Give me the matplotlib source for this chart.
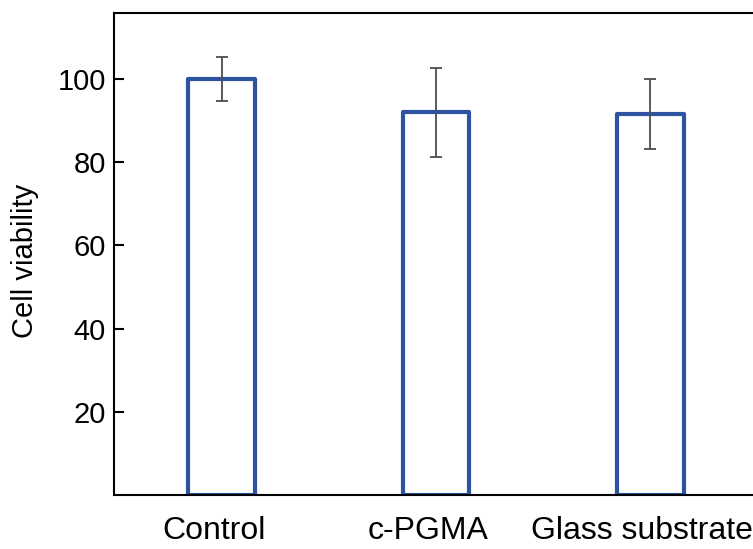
import matplotlib
matplotlib.use("Agg")
import matplotlib.pyplot as plt
import matplotlib.transforms as mtransforms

categories = ["Control", "c-PGMA", "Glass substrate"]
viability = [100.0, 92.1, 91.6]
errors = [5.3, 10.7, 8.4]
yticks = [20, 40, 60, 80, 100]

plt.rcParams['font.family'] = ['Liberation Sans', 'DejaVu Sans']

fig = plt.figure(figsize=(7.53, 5.49), dpi=100)
ax = fig.add_axes([0.152, 0.0987, 0.854, 0.878])

x = list(range(len(categories)))
bars = ax.bar(x, viability, width=0.31, color='white', edgecolor='#2E54A1', linewidth=3.0, zorder=2)
for b in bars:
    b.set_joinstyle('round')
ax.errorbar(x, viability, yerr=errors, fmt='none', ecolor='#4d4d4d', elinewidth=1.3,
            capsize=4.5, capthick=1.3, zorder=3)

ax.set_xlim(-0.5, 2.5)
ax.set_ylim(0, 116)
ax.set_yticks(yticks)
ax.set_yticklabels([str(t) for t in yticks], fontsize=21)
ax.set_xticks(x)
ax.set_xticklabels(categories, fontsize=23)
ax.tick_params(axis='y', direction='in', length=7, width=1.5, pad=6)
ax.tick_params(axis='x', length=0, pad=15)
offset = mtransforms.ScaledTranslation(-8 / 100, 0, fig.dpi_scale_trans)
for lbl in ax.get_xticklabels():
    lbl.set_transform(lbl.get_transform() + offset)
ax.spines['right'].set_visible(False)
for s in ['left', 'top', 'bottom']:
    ax.spines[s].set_linewidth(1.5)
ax.set_ylabel("Cell viability", fontsize=21)
ax.yaxis.set_label_coords(-0.118, 0.485)

fig.savefig("out.png", dpi=100)
